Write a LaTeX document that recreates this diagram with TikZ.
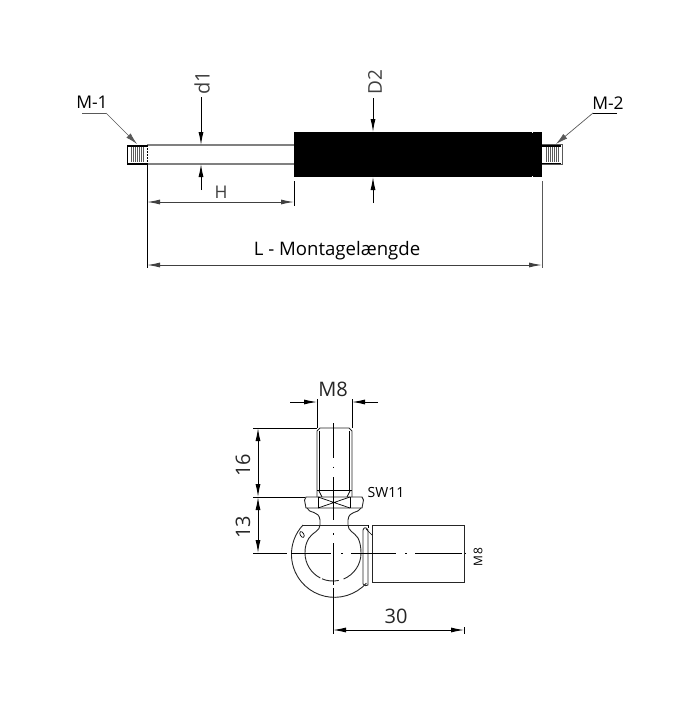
\documentclass[tikz,border=0pt]{standalone}
\usepackage{fontspec}
\setmainfont{Open Sans}
\usetikzlibrary{arrows.meta}
\tikzset{
    dimline/.style={line width=0.9pt, {Latex[length=13pt,width=5pt]}-{Latex[length=13pt,width=5pt]}},
    dimarrow/.style={line width=0.9pt, -{Latex[length=13pt,width=5pt]}},
    leaderline/.style={line width=0.7pt, gray!70!black, -{Latex[length=12pt,width=6pt]}},
    thinline/.style={line width=0.7pt},
    partline/.style={line width=0.9pt, black!85},
    label/.style={font=\fontsize{17.5}{17.5}\selectfont, inner sep=0pt},
    bigdim/.style={font=\fontsize{20}{20}\selectfont, inner sep=0pt, black!85}
}
\begin{document}
\begin{tikzpicture}[x=1pt, y=-1pt]
    \useasboundingbox (0,0) rectangle (700,725);
    % Rod
    \draw [line width=1.2pt, gray] (147,145) -- (294,145);
    \draw [line width=1.2pt, gray] (147,164) -- (294,164);
    \draw [thinline, dash pattern=on 2pt off 1pt] (147,145) -- (147,164);
    % Cylinder
    \fill [black] (294,132) rectangle (542,177);
    \fill [white] (531.5,131.5) rectangle (532.5,133);
    \fill [white] (531.5,176) rectangle (532.5,177.5);
    % Left thread
    \draw [thinline, black] (147,145) -- (127,145) -- (127,164) -- (147,164);
    \foreach \xpos in {131,133,...,143}
        \draw [line width=0.6pt, gray!70!black] (\xpos,147) -- (\xpos,162);
    \draw [line width=1.2pt] (127,146) -- (147,146);
    \draw [line width=1.2pt] (127,163.5) -- (147,163.5);
    % Right thread
    \draw [thinline, gray!70!black] (542,144) -- (562,144) -- (562,164) -- (542,164);
    \foreach \xpos in {546,548,...,558}
        \draw [line width=0.6pt, gray!70!black] (\xpos,147) -- (\xpos,162);
    \draw [line width=1.2pt] (542,146) -- (561,146);
    \draw [line width=1.2pt] (542,163.5) -- (561,163.5);
    % Leaders
    \draw [line width=0.8pt, gray!70!black] (82,113) -- (106,113);
    \draw [leaderline] (106,113) -- (137,144);
    \draw [line width=0.8pt, black] (617,113) -- (593,113);
    \draw [leaderline] (593,113) -- (556,144);
    \node [label] (mone) at (92,102.5) {M-1};
    \node [label] (mtwo) at (608,103) {M-2};
    % Rod and cylinder dimensions
    \draw [dimarrow] (201,97) -- (201,145);
    \draw [dimarrow] (201,190) -- (201,164);
    \draw [dimarrow] (373,98) -- (373,132);
    \draw [dimarrow] (373,203) -- (373,177);
    \node [label, font=\fontsize{20}{20}\selectfont, rotate=90, gray!50!black] (dsmall) at (202,83) {d1};
    \node [label, font=\fontsize{19}{19}\selectfont, rotate=90, gray!50!black] (dlarge) at (375,82) {D2};
    \draw [thinline] (147,164) -- (147,268);
    \draw [thinline] (294,181) -- (294,206);
    \draw [thinline, gray!70!black] (542,181) -- (542,268);
    \draw [dimline, gray!50!black] (147,202) -- (294,202);
    \draw [dimline, gray!50!black] (147,265) -- (542,265);
    \node [label, gray!50!black] (hlabel) at (221,192) {H};
    \node [label, font=\fontsize{18.6}{18.6}\selectfont] (llabel) at (337,251) {L - Montagelængde};
    % Stud
    \draw [partline] (317,497) -- (317,431) -- (320,428) -- (349,428) -- (352,431) -- (352,497);
    \draw [thinline] (319.5,431) -- (319.5,490) (349.5,431) -- (349.5,490);
    \draw [thinline] (317,490) -- (352,490);
    \draw [thinline] (319,491) -- (322,497) (350,491) -- (347,497);
    % Hexagon
    \draw [partline] (306,497) -- (362,497) -- (363.5,500) -- (362,508) -- (306,508) -- (304.5,500) -- cycle;
    \draw [thinline] (318,497) -- (318,508) (350,497) -- (350,508);
    \draw [thinline] (318,497) -- (350,508) (318,508) -- (350,497);
    \node [font=\fontsize{14}{14}\selectfont, inner sep=0pt] (swlabel) at (386,492) {SW11};
    % Neck
    \draw [partline] (307,508) .. controls (309,514) and (319,510) .. (320,520) -- (320,525) .. controls (320,531) and (313,532) .. (309,538);
    \draw [partline] (361,508) .. controls (358,514) and (349,510) .. (348,520) -- (348,525) .. controls (348,531) and (354,532) .. (358,538);
    % Ball housing
    \draw [partline] (303,525) -- (368,525);
    \draw [partline] (303,525) arc [start angle=223, end angle=42, radius=43];
    \draw [partline] (309,538) .. controls (306,543) and (305,547) .. (305,553) arc [start angle=180, end angle=117, radius=28];
    \draw [partline] (322,578.8) arc [start angle=113, end angle=78, radius=28];
    \draw [partline] (343.5,579) arc [start angle=68, end angle=0, radius=28];
    \draw [partline] (361,553) .. controls (361,547) and (360,542) .. (358,538);
    \draw [thinline, rotate around={30:(302,534.5)}] (302,534.5) ellipse [x radius=1.8, y radius=3.2];
    % Socket
    \draw [partline] (372,525) -- (464,525) -- (464,582) -- (372,582);
    \draw [partline] (372,525) -- (372,582);
    % Spring clip
    \draw [partline] (363,584) -- (363,530) .. controls (364,527) and (366,527) .. (368,530) -- (368,585) .. controls (367,586) and (364,586) .. (363,584);
    \draw [thinline] (366,529) -- (372,535);
    \draw [thinline] (368,525) -- (368,528);
    % Centre lines
    \draw [thinline] (333,423) -- (333,458) (333,466.5) -- (333,467.5) (333,477) -- (333,520);
    \draw [thinline] (333,533) -- (333,535) (333,543) -- (333,585) (333,588) -- (333,634);
    \draw [thinline] (253,553) -- (287,553) (291,553) -- (331,553) (341,553) -- (343,553) (351,553) -- (396,553);
    \draw [thinline] (405,553) -- (407,553) (415,553) -- (462,553) (465,552.5) -- (465,553.5);
    % Ball joint dimensions
    \draw [thinline] (317,399) -- (317,428) (352,399) -- (352,428);
    \draw [dimarrow] (290,402) -- (317,402);
    \draw [dimarrow] (378,402) -- (352,402);
    \draw [thinline] (253,428) -- (317,428);
    \draw [thinline] (253,497) -- (305,497);
    \draw [dimline] (258,428) -- (258,497);
    \draw [dimline] (258,497) -- (258,553);
    \draw [thinline] (464,627) -- (464,634);
    \draw [dimline] (333,630) -- (464,630);
    \node [bigdim] (mlabel) at (333,389) {M8};
    \node [bigdim, rotate=90] (sixteen) at (243,465.5) {16};
    \node [bigdim, rotate=90] (thirteen) at (243,527) {13};
    \node [bigdim] (thirty) at (396,616) {30};
    \node [font=\fontsize{12}{12}\selectfont, inner sep=0pt, rotate=90] (socketm) at (478,557) {M\,8};
\end{tikzpicture}
\end{document}
